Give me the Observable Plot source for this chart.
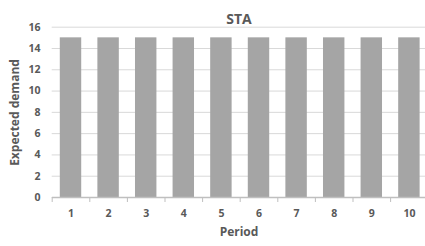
<!DOCTYPE html>
<html><head><meta charset="utf-8">
<script src="https://cdn.jsdelivr.net/npm/d3@7"></script>
<script src="https://cdn.jsdelivr.net/npm/@observablehq/plot@0.6"></script>
<style>body{margin:0;background:#fff}</style>
</head><body><div id="chart"></div>
<script>
const title = "STA";
const periods = [1, 2, 3, 4, 5, 6, 7, 8, 9, 10];
const demand = [15, 15, 15, 15, 15, 15, 15, 15, 15, 15];
const yTicks = [0, 2, 4, 6, 8, 10, 12, 14, 16];
const xLabel = "Period";
const yLabel = "Expected demand";

const data = periods.map((p, i) => ({period: p, demand: demand[i]}));
const boundaries = [periods[0] - 0.5, ...periods.map(p => p + 0.5)];
const half = 0.285;
const txt = "#595959";

const chart = Plot.plot({
  width: 425, height: 246,
  marginLeft: 52, marginRight: 0, marginTop: 27, marginBottom: 49,
  style: {fontFamily: "'Open Sans', sans-serif", fontWeight: "bold", color: txt, background: "#fff"},
  x: {domain: [0.5, 10.5], range: [51.7, 427.7]},
  y: {domain: [0, 16], range: [197, 26.7]},
  marks: [
    Plot.gridY(yTicks, {stroke: "#d9d9d9", strokeOpacity: 1, x1: 0.5, x2: 10.5}),
    Plot.rectY(data, {x1: d => d.period - half, x2: d => d.period + half, y: "demand", fill: "#a5a5a5"}),
    Plot.ruleY([0], {stroke: "#bfbfbf", strokeWidth: 1.5}),
    Plot.axisX(boundaries, {tickSize: 5, stroke: "#bfbfbf", tickFormat: () => "", label: null}),
    Plot.axisX(periods, {tickSize: 0, tickPadding: 12, fontSize: 10.5, fill: txt, label: null}),
    Plot.axisY(yTicks, {tickSize: 0, tickPadding: 12, fontSize: 10.5, fill: txt, label: null}),
    Plot.text([title], {frameAnchor: "top", dy: -13, fontSize: 14, fontWeight: "bold", fill: txt}),
    Plot.text([xLabel], {frameAnchor: "bottom", lineAnchor: "middle", dy: 35, fontSize: 12, fontWeight: "bold", fill: txt}),
    Plot.text([yLabel], {frameAnchor: "left", textAnchor: "middle", lineAnchor: "middle", dx: -37, rotate: -90, fontSize: 12, fontWeight: "bold", fill: txt})
  ]
});
document.getElementById("chart").append(chart);
</script></body></html>
